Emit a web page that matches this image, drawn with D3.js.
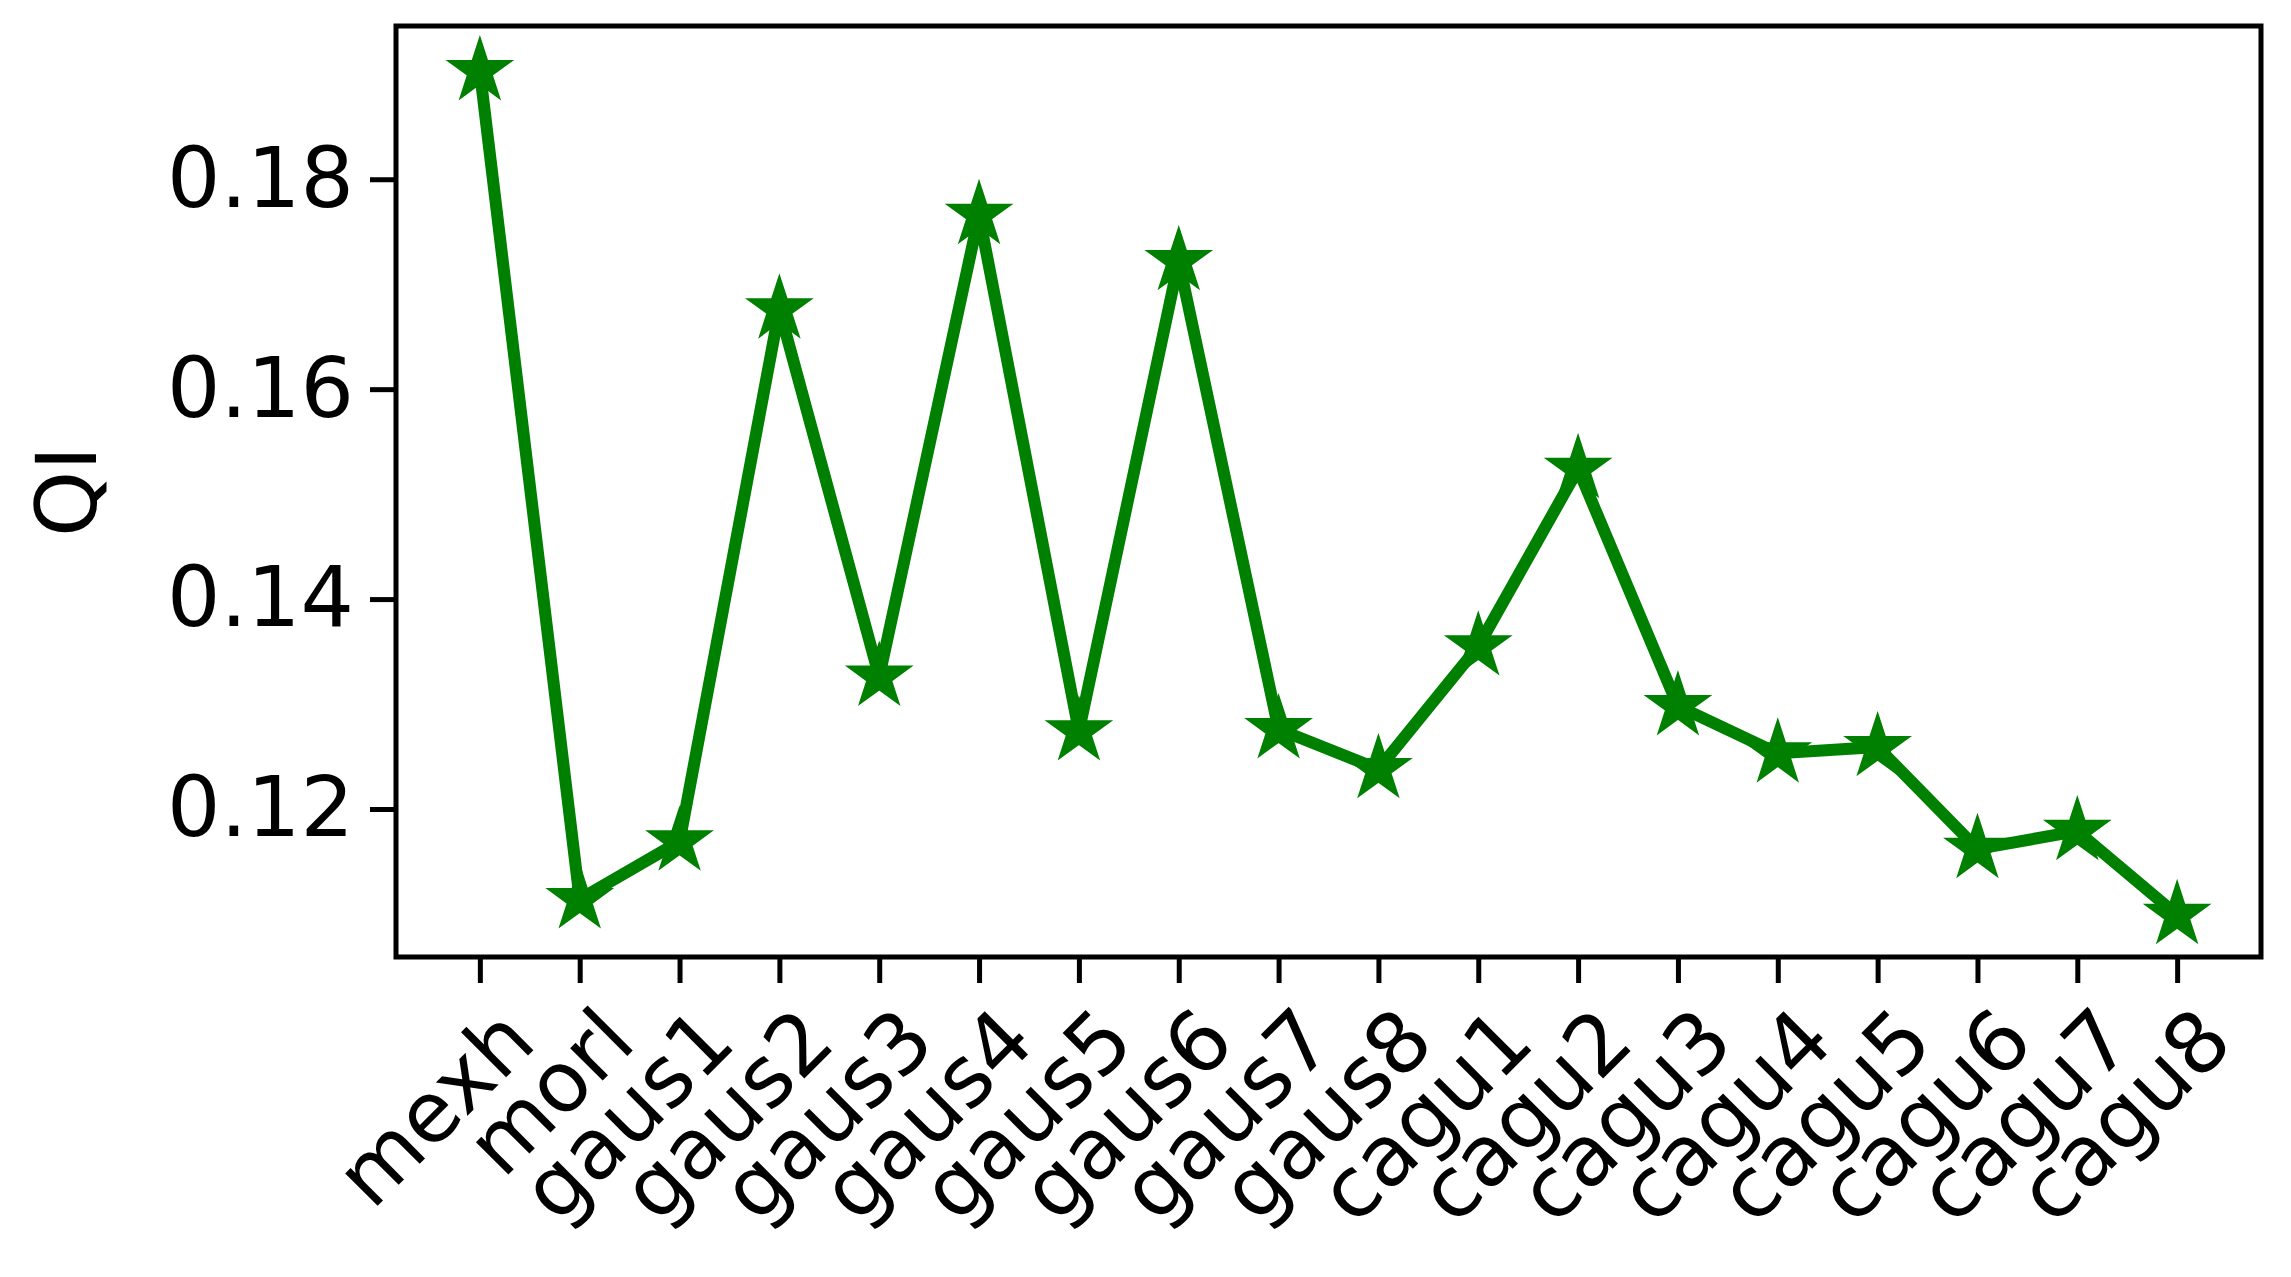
<!DOCTYPE html>
<html><head><meta charset="utf-8">
<script src="https://cdn.jsdelivr.net/npm/d3@7"></script>
<style>body{margin:0;background:#fff}</style></head>
<body><svg id="c" width="2291" height="1277"></svg>
<script>
const categories = ["mexh","morl","gaus1","gaus2","gaus3","gaus4","gaus5","gaus6","gaus7","gaus8","cagu1","cagu2","cagu3","cagu4","cagu5","cagu6","cagu7","cagu8"];
const values = [0.1903,0.1114,0.1169,0.1676,0.1326,0.1766,0.1274,0.1722,0.1276,0.1238,0.1355,0.1524,0.1298,0.1253,0.1259,0.1162,0.1179,0.1099];
const yTicks = [0.12,0.14,0.16,0.18];

const L=396,R=2261,T=26,B=957;
const svg=d3.select("#c");
const x=d3.scalePoint().domain(categories).range([L,R]).padding(0.84);
const y=d3.scaleLinear().domain([0.1059,0.1946]).range([B,T]);
const font="DejaVu Sans";
const fs=84;

const ya=svg.append("g").attr("transform",`translate(${L},0)`)
  .call(d3.axisLeft(y).tickValues(yTicks).tickFormat(d3.format(".2f")).tickSize(26).tickPadding(16));
ya.selectAll("text").attr("font-family",font).attr("font-size",fs).attr("fill","#000");
ya.selectAll("line").attr("stroke","#000").attr("stroke-width",5);
ya.select(".domain").remove();

const xa=svg.append("g").attr("transform",`translate(0,${B})`)
  .call(d3.axisBottom(x).tickSize(26).tickFormat(""));
xa.selectAll("line").attr("stroke","#000").attr("stroke-width",5);
xa.select(".domain").remove();
xa.selectAll(".tick").append("text")
  .text(d=>d).attr("font-family",font).attr("font-size",fs).attr("fill","#000")
  .attr("text-anchor","end")
  .attr("transform","translate(58,88) rotate(-45)");

svg.append("rect").attr("x",L).attr("y",T).attr("width",R-L).attr("height",B-T)
  .attr("fill","none").attr("stroke","#000").attr("stroke-width",5);

svg.append("text").attr("transform",`translate(96,${(T+B)/2}) rotate(-90)`)
  .attr("text-anchor","middle").attr("font-family",font).attr("font-size",fs).text("QI");

const line=d3.line().x((d,i)=>x(categories[i])).y(d=>y(d));
svg.append("path").datum(values).attr("d",line).attr("fill","none")
  .attr("stroke","#008000").attr("stroke-width",12).attr("stroke-linejoin","round");
const star=d3.symbol().type(d3.symbolStar).size(1100);
svg.selectAll(".m").data(values).enter().append("path")
  .attr("transform",(d,i)=>`translate(${x(categories[i])},${y(d)})`)
  .attr("d",star()).attr("fill","#008000").attr("stroke","#008000").attr("stroke-width",3);
</script></body></html>
